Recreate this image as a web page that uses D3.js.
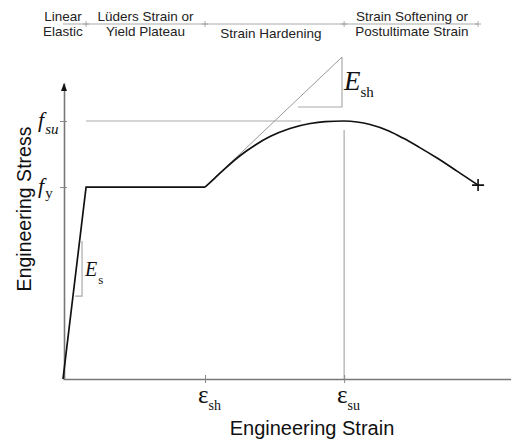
<!DOCTYPE html>
<html><head><meta charset="utf-8">
<script src="https://cdn.jsdelivr.net/npm/d3@7"></script>
<style>body{margin:0;background:#fff}svg{display:block}</style>
</head><body>
<svg id="c" width="511" height="441"></svg>
<script>
// ---- data (strain in %, stress normalised by fy) ----
const keyStrain = [0, 1.03, 6.34, 12.55, 18.53];      // origin, yield, εsh, εsu, fracture
const stressTicks = [1.0, 1.344];                     // fy, fsu
const stressTickLabels = [["f","y"], ["f","su"]];
const strainTicks = [6.34, 12.55];                    // εsh, εsu
const strainTickLabels = [["ε","sh"], ["ε","su"]];

const elasticStrain = [0, 1.03, 6.34];
const elasticStress = [0, 1.0, 1.0];
const hardenStrain = [6.34, 6.79, 7.23, 7.90, 8.57, 9.24, 10.13, 11.03, 11.70, 12.55, 13.13, 13.71, 14.55, 15.18, 15.89, 16.70, 17.59, 18.53];
const hardenStress = [1.0, 1.048, 1.096, 1.163, 1.218, 1.263, 1.305, 1.331, 1.341, 1.344, 1.339, 1.326, 1.292, 1.255, 1.208, 1.151, 1.083, 1.010];
const tangentStrain = [6.34, 12.455];
const tangentStress = [1.0, 1.677];
const eshTriStrain = [10.49, 12.455, 12.455];
const eshTriStress = [1.417, 1.417, 1.677];
const esBrStrain = [0.54, 0.85, 0.85];
const esBrStress = [0.432, 0.432, 0.719];
const fsuGuideStrain = [1.03, 10.63];
const esuGuideStress = [0, 1.297];

const regionLabels = [
  {c: 0.0, lines: ["Linear", "Elastic"], y: [21, 36]},
  {c: 3.68, lines: ["Lüders Strain or", "Yield Plateau"], y: [21, 36]},
  {c: 9.28, lines: ["Strain Hardening"], y: [38]},
  {c: 15.58, lines: ["Strain Softening or", "Postultimate Strain"], y: [21, 36]}
];

// ---- scales ----
const x = d3.scaleLinear([0, 20], [63, 511]);
const y = d3.scaleLinear([0, 1.542], [379, 83]);
const svg = d3.select("#c");
const SANS = "'Liberation Sans', Arial, sans-serif";
const SERIF = "'Liberation Serif', 'Times New Roman', serif";
const line = d3.line().x(d => x(d[0])).y(d => y(d[1]));
const zip = (a, b) => a.map((v, i) => [v, b[i]]);

// top region annotation
const topY = 24;
svg.append("line").attr("x1", x(keyStrain[0])).attr("x2", x(keyStrain[4]))
  .attr("y1", topY).attr("y2", topY).attr("stroke", "#aaa").attr("stroke-width", 1.2);
keyStrain.slice(1).forEach(s => {
  svg.append("line").attr("x1", x(s)).attr("x2", x(s)).attr("y1", topY - 3).attr("y2", topY + 3)
    .attr("stroke", "#999").attr("stroke-width", 0.8);
  svg.append("line").attr("x1", x(s) - 3).attr("x2", x(s) + 3).attr("y1", topY).attr("y2", topY)
    .attr("stroke", "#999").attr("stroke-width", 0.8);
});
regionLabels.forEach(r => {
  r.lines.forEach((t, i) => {
    svg.append("text").attr("x", x(r.c)).attr("y", r.y[i]).attr("text-anchor", "middle")
      .attr("font-family", SANS).attr("font-size", 13.5).attr("fill", "#222").text(t);
  });
});

// guides
const guide = (pts) => svg.append("path").attr("d", line(pts)).attr("fill", "none")
  .attr("stroke", "#aaa").attr("stroke-width", 1.2);
guide(zip(fsuGuideStrain, [stressTicks[1], stressTicks[1]]));
guide(zip([keyStrain[3], keyStrain[3]], esuGuideStress));
guide(zip(eshTriStrain, eshTriStress));
guide(zip(esBrStrain, esBrStress));
svg.append("path").attr("d", line(zip(tangentStrain, tangentStress))).attr("fill", "none")
  .attr("stroke", "#999").attr("stroke-width", 1);

// axes
const xAxis = svg.append("g").attr("transform", `translate(0,${y(0)})`)
  .call(d3.axisBottom(x).tickValues(strainTicks).tickSizeInner(4).tickSizeOuter(0).tickFormat(""));
xAxis.selectAll(".tick line").attr("y1", -4).attr("y2", 4).attr("stroke", "#888");
xAxis.select(".domain").attr("stroke", "#777").attr("stroke-width", 1.6);

const yAxis = svg.append("g").attr("transform", `translate(${x(0) + 1},0)`)
  .call(d3.axisLeft(y).tickValues(stressTicks).tickSizeInner(4).tickSizeOuter(0).tickFormat(""));
yAxis.selectAll(".tick line").attr("x1", -4).attr("x2", 3).attr("stroke", "#888");
yAxis.select(".domain").attr("stroke", "#777").attr("stroke-width", 1.6);
svg.append("path").attr("d", `M${x(0) + 1},${y(1.542)} l-3,8 l6,0 z`).attr("fill", "#111");

// curve
svg.append("path").attr("d", line(zip(elasticStrain, elasticStress))).attr("fill", "none")
  .attr("stroke", "#111").attr("stroke-width", 1.7).attr("stroke-linejoin", "miter");
svg.append("path").attr("d", line.curve(d3.curveMonotoneX)(zip(hardenStrain, hardenStress)))
  .attr("fill", "none").attr("stroke", "#111").attr("stroke-width", 1.7);
line.curve(d3.curveLinear);
const fx = x(keyStrain[4]), fy = y(hardenStress[hardenStress.length - 1]);
svg.append("path").attr("d", `M${fx - 6},${fy} h12 M${fx},${fy - 6} v12`)
  .attr("stroke", "#111").attr("stroke-width", 1.6);

// tick labels
stressTickLabels.forEach((lab, i) => {
  const yy = y(stressTicks[i]);
  const t = svg.append("text").attr("font-family", SERIF).attr("fill", "#111");
  t.append("tspan").attr("x", 38).attr("y", yy + 6).attr("font-size", 22).attr("font-style", "italic").text(lab[0]);
  t.append("tspan").attr("dx", 1).attr("y", yy + (i === 0 ? 11 : 13)).attr("font-size", 15)
    .attr("font-style", i === 0 ? "normal" : "italic").text(lab[1]);
});
strainTickLabels.forEach((lab, i) => {
  const xx = x(strainTicks[i]);
  const t = svg.append("text").attr("font-family", SERIF).attr("fill", "#111");
  t.append("tspan").attr("x", xx - 7).attr("y", 403).attr("font-size", 25).text(lab[0]);
  t.append("tspan").attr("y", 410).attr("font-size", 14).text(lab[1]);
});

// modulus labels
const es = svg.append("text").attr("font-family", SERIF).attr("fill", "#111");
es.append("tspan").attr("x", x(esBrStrain[1]) + 3).attr("y", 276).attr("font-size", 20).attr("font-style", "italic").text("E");
es.append("tspan").attr("dx", 1).attr("y", 284).attr("font-size", 13).text("s");
const esh = svg.append("text").attr("font-family", SERIF).attr("fill", "#111");
esh.append("tspan").attr("x", x(eshTriStrain[1]) + 2).attr("y", 90).attr("font-size", 27).attr("font-style", "italic").text("E");
esh.append("tspan").attr("dx", 0).attr("y", 97).attr("font-size", 15).text("sh");

// axis titles
svg.append("text").attr("x", 312).attr("y", 435).attr("text-anchor", "middle")
  .attr("font-family", SANS).attr("font-size", 20).attr("fill", "#111").text("Engineering Strain");
svg.append("text").attr("transform", "translate(31,209) rotate(-90)").attr("text-anchor", "middle")
  .attr("font-family", SANS).attr("font-size", 19.5).attr("fill", "#111").text("Engineering Stress");
</script>
</body></html>
